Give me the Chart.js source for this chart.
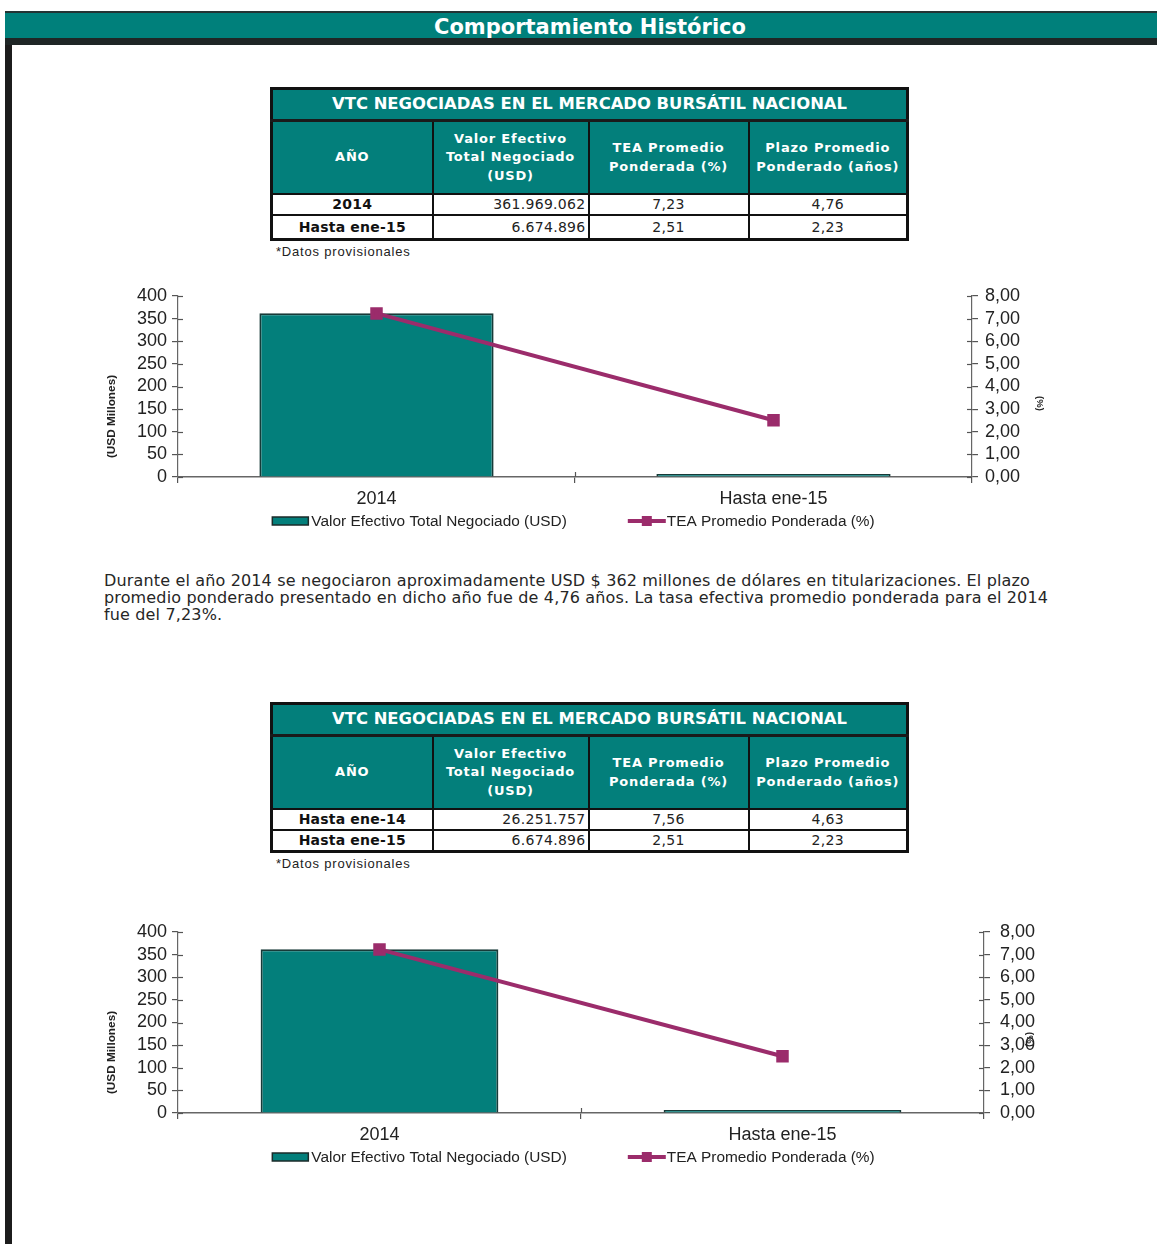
<!DOCTYPE html>
<html lang="es">
<head>
<meta charset="utf-8">
<title>Comportamiento Histórico</title>
<script src="https://cdn.jsdelivr.net/npm/chart.js@4.4.1/dist/chart.umd.min.js"></script>
<style>
  html, body { margin: 0; padding: 0; background: #fff; }
  body { width: 1157px; height: 1244px; position: relative; overflow: hidden;
         font-family: "DejaVu Sans", Verdana, sans-serif; color: #1a1a1a; }
  .borde-izq { position: absolute; left: 5px; top: 12px; width: 7px; height: 1232px; background: #1c1c1c; }
  .cabecera { position: absolute; left: 5px; top: 11px; width: 1152px; height: 23px;
              background: #00807b; border-top: 2px solid #243434; border-bottom: 7px solid #1f2626;
              color: #fff; font-weight: bold; font-size: 21px; line-height: 25px;
              text-align: center; box-sizing: content-box; padding-left: 9px; padding-top: 2px; }
  table.vtc { position: absolute; left: 270px; width: 639px; border-collapse: collapse;
              table-layout: fixed; border: 3px solid #111; }
  table.vtc th, table.vtc td { border: 2px solid #111; padding: 0; overflow: hidden; white-space: nowrap; }
  table.vtc th { background: #037f7b; color: #fff; font-weight: bold; font-size: 13px;
                 line-height: 18.5px; letter-spacing: 0.8px; }
  table.vtc th.titulo { font-size: 16.4px; height: 29px; border-bottom: 3px solid #1a1a1a; letter-spacing: 0; }
  table.vtc tr.enc th { height: 71px; white-space: normal; }
  table.vtc td { font-size: 14px; height: 19px; line-height: 19px; text-align: center; color: #222;
                 letter-spacing: 0.3px; }
  table.vtc tr.fila2 td { height: 22px; }
  #tabla2 tr.fila2 td { height: 19px; }
  table.vtc td.num { text-align: right; padding-right: 2px; }
  table.vtc td.anio { font-weight: bold; color: #111; letter-spacing: 0.2px; }
  .nota { position: absolute; left: 276px; font-family: "Liberation Sans", Arial, sans-serif;
          font-size: 13px; color: #222; letter-spacing: 0.8px; }
  .parrafo { position: absolute; left: 104px; top: 572px; font-size: 16px; line-height: 17px;
             color: #262626; white-space: nowrap; letter-spacing: 0.15px; }
  canvas { position: absolute; }
</style>
</head>
<body>
<div class="borde-izq"></div>
<div class="cabecera">Comportamiento Histórico</div>

<table class="vtc" id="tabla1" style="top:87px"></table>
<div class="nota" style="top:244px">*Datos provisionales</div>

<canvas id="grafico1" width="970" height="255" style="left:95px; top:282px"></canvas>

<div class="parrafo">
Durante el año 2014 se negociaron aproximadamente USD $ 362 millones de dólares en titularizaciones. El plazo<br>
promedio ponderado presentado en dicho año fue de 4,76 años. La tasa efectiva promedio ponderada para el 2014<br>
fue del 7,23%.
</div>

<table class="vtc" id="tabla2" style="top:702px"></table>
<div class="nota" style="top:856px">*Datos provisionales</div>

<canvas id="grafico2" width="985" height="255" style="left:95px; top:918px"></canvas>

<script>
// Tabla 1
const anios1 = ['2014', 'Hasta ene-15'];
const valorEfectivo1 = [361969062, 6674896];
const tea1 = [7.23, 2.51];
const plazo1 = [4.76, 2.23];

// Tabla 2
const anios2 = ['Hasta ene-14', 'Hasta ene-15'];
const valorEfectivo2 = [26251757, 6674896];
const tea2 = [7.56, 2.51];
const plazo2 = [4.63, 2.23];

// Graficos (los dos muestran lo mismo)
const categoriasGrafico = ['2014', 'Hasta ene-15'];
const valorMillones = [361.969062, 6.674896];
const teaGrafico = [7.23, 2.51];
const ejeUSD = { min: 0, max: 400, paso: 50 };
const ejeTEA = { min: 0, max: 8, paso: 1 };

const TEAL = '#037f7b';
const PURPURA = '#9b2c6b';
const FUENTE = '"Liberation Sans", Arial, sans-serif';

function miles(n) {
  return String(n).replace(/\B(?=(\d{3})+(?!\d))/g, '.');
}
function decimal(n) {
  return n.toFixed(2).replace('.', ',');
}

function llenarTabla(id, anios, valores, tea, plazo) {
  let html = '<colgroup><col style="width:161px"><col style="width:156px"><col style="width:160px"><col style="width:159px"></colgroup>';
  html += '<tr><th class="titulo" colspan="4">VTC NEGOCIADAS EN EL MERCADO BURSÁTIL NACIONAL</th></tr>';
  html += '<tr class="enc"><th>AÑO</th><th>Valor Efectivo<br>Total Negociado<br>(USD)</th>' +
          '<th>TEA Promedio<br>Ponderada (%)</th><th>Plazo Promedio<br>Ponderado (años)</th></tr>';
  anios.forEach((a, i) => {
    html += `<tr class="fila${i + 1}"><td class="anio">${a}</td><td class="num">${miles(valores[i])}</td>` +
            `<td>${decimal(tea[i])}</td><td>${decimal(plazo[i])}</td></tr>`;
  });
  document.getElementById(id).innerHTML = html;
}

llenarTabla('tabla1', anios1, valorEfectivo1, tea1, plazo1);
llenarTabla('tabla2', anios2, valorEfectivo2, tea2, plazo2);

// leyenda dibujada debajo del eje x
const leyendaInferior = {
  id: 'leyendaInferior',
  afterDraw(chart, args, opts) {
    const ctx = chart.ctx;
    const area = chart.chartArea;
    ctx.save();
    ctx.font = '15.4px ' + FUENTE;
    const items = chart.data.datasets.map(ds => ({ ds, w: 40 + ctx.measureText(ds.label).width }));
    const hueco = 60;
    const total = items.reduce((s, it) => s + it.w, 0) + hueco * (items.length - 1);
    let x = opts.centro - total / 2;
    const y = area.bottom + opts.offset;
    items.forEach(it => {
      if (it.ds.type === 'bar') {
        ctx.fillStyle = it.ds.backgroundColor;
        ctx.fillRect(x, y - 4, 36, 8);
        ctx.strokeStyle = '#1b2b2a';
        ctx.lineWidth = 1.5;
        ctx.strokeRect(x, y - 4, 36, 8);
      } else {
        ctx.strokeStyle = it.ds.borderColor;
        ctx.lineWidth = 4;
        ctx.beginPath();
        ctx.moveTo(x, y);
        ctx.lineTo(x + 38, y);
        ctx.stroke();
        ctx.fillStyle = it.ds.borderColor;
        ctx.fillRect(x + 14, y - 5, 10, 10);
      }
      ctx.fillStyle = '#222';
      ctx.textBaseline = 'middle';
      ctx.textAlign = 'left';
      ctx.fillText(it.ds.label, x + 39, y + 1);
      x += it.w + hueco;
    });
    ctx.restore();
  }
};

// titulos de los ejes verticales, algo por debajo del centro como en el original
const titulosEjes = {
  id: 'titulosEjes',
  afterDraw(chart, args, opts) {
    const ctx = chart.ctx;
    const area = chart.chartArea;
    const medio = (area.top + area.bottom) / 2;
    ctx.save();
    ctx.fillStyle = '#222';
    ctx.textAlign = 'center';
    ctx.textBaseline = 'middle';
    ctx.font = 'bold 11.8px ' + FUENTE;
    ctx.translate(opts.izqX, medio + opts.izqDy);
    ctx.rotate(-Math.PI / 2);
    ctx.fillText(opts.izq, 0, 0);
    ctx.restore();
    ctx.save();
    ctx.fillStyle = '#222';
    ctx.textAlign = 'center';
    ctx.textBaseline = 'middle';
    ctx.font = 'bold 9.5px ' + FUENTE;
    ctx.translate(opts.derX, medio + opts.derDy);
    ctx.rotate(Math.PI / 2);
    ctx.fillText(opts.der, 0, 0);
    ctx.restore();
  }
};

// marcas que cruzan los ejes hacia dentro
const marcasInternas = {
  id: 'marcasInternas',
  afterDraw(chart) {
    const ctx = chart.ctx;
    ctx.save();
    ctx.strokeStyle = '#555';
    ctx.lineWidth = 1.2;
    ['y', 'y2'].forEach(id => {
      const s = chart.scales[id];
      const ax = id === 'y' ? chart.chartArea.left : chart.chartArea.right;
      const dir = id === 'y' ? 1 : -1;
      s.ticks.forEach(t => {
        const py = Math.round(s.getPixelForValue(t.value)) + 0.5;
        ctx.beginPath();
        ctx.moveTo(ax, py);
        ctx.lineTo(ax + dir * 5, py);
        ctx.stroke();
      });
    });
    const sx = chart.scales.x;
    for (let i = 1; i < sx.ticks.length; i++) {
      const px = Math.round((sx.getPixelForTick(i - 1) + sx.getPixelForTick(i)) / 2) + 0.5;
      ctx.beginPath();
      ctx.moveTo(px, chart.chartArea.bottom);
      ctx.lineTo(px, chart.chartArea.bottom - 5);
      ctx.stroke();
    }
    ctx.restore();
  }
};

// ancho fijo del eje y sin relleno extra arriba/abajo
function fijarEje(ancho) {
  return s => {
    s.width = ancho;
    s.paddingTop = 0;
    s.paddingBottom = 0;
  };
}

function crearGrafico(id, anchoDerecho, paddingDerecho, tituloDerX) {
  const ctx = document.getElementById(id);
  return new Chart(ctx, {
    data: {
      labels: categoriasGrafico,
      datasets: [
        {
          type: 'bar',
          label: 'Valor Efectivo Total Negociado (USD)',
          data: valorMillones,
          yAxisID: 'y',
          backgroundColor: TEAL,
          borderColor: '#173a38',
          borderWidth: 2,
          categoryPercentage: 1,
          barPercentage: 0.59,
          order: 2
        },
        {
          type: 'line',
          label: 'TEA Promedio Ponderada (%)',
          data: teaGrafico,
          yAxisID: 'y2',
          borderColor: PURPURA,
          backgroundColor: PURPURA,
          borderWidth: 4,
          pointStyle: 'rect',
          pointRadius: 6,
          pointHoverRadius: 6,
          order: 1
        }
      ]
    },
    options: {
      responsive: false,
      animation: false,
      events: [],
      layout: { padding: { top: 14, bottom: 30, left: 0, right: 0 } },
      plugins: {
        legend: { display: false },
        tooltip: { enabled: false },
        leyendaInferior: { offset: 44, centro: 479 },
        titulosEjes: { izq: '(USD Millones)', izqX: 17, izqDy: 30,
                       der: '(%)', derX: tituloDerX, derDy: 17 }
      },
      scales: {
        x: {
          offset: true,
          grid: { offset: true, drawOnChartArea: false, tickLength: 6, color: '#555', lineWidth: 1.2 },
          border: { color: '#666', width: 1.5 },
          ticks: { font: { family: FUENTE, size: 18 }, color: '#222', padding: 5 },
          afterFit: s => { s.height = 30; }
        },
        y: {
          position: 'left',
          min: ejeUSD.min,
          max: ejeUSD.max,
          ticks: { stepSize: ejeUSD.paso, autoSkip: false, font: { family: FUENTE, size: 18 },
                   color: '#222', padding: 5 },
          grid: { drawOnChartArea: false, tickLength: 6, color: '#555', lineWidth: 1.2 },
          border: { color: '#666', width: 1.2 },
          afterFit: fijarEje(83)
        },
        y2: {
          position: 'right',
          min: ejeTEA.min,
          max: ejeTEA.max,
          ticks: { stepSize: ejeTEA.paso, autoSkip: false, font: { family: FUENTE, size: 18 },
                   color: '#222', padding: paddingDerecho, callback: v => decimal(v) },
          grid: { drawOnChartArea: false, tickLength: 6, color: '#555', lineWidth: 1.2 },
          border: { color: '#666', width: 1.2 },
          afterFit: fijarEje(anchoDerecho)
        }
      }
    },
    plugins: [leyendaInferior, titulosEjes, marcasInternas]
  });
}

crearGrafico('grafico1', 93, 7, 945);
crearGrafico('grafico2', 96, 10, 935);
</script>
</body>
</html>
